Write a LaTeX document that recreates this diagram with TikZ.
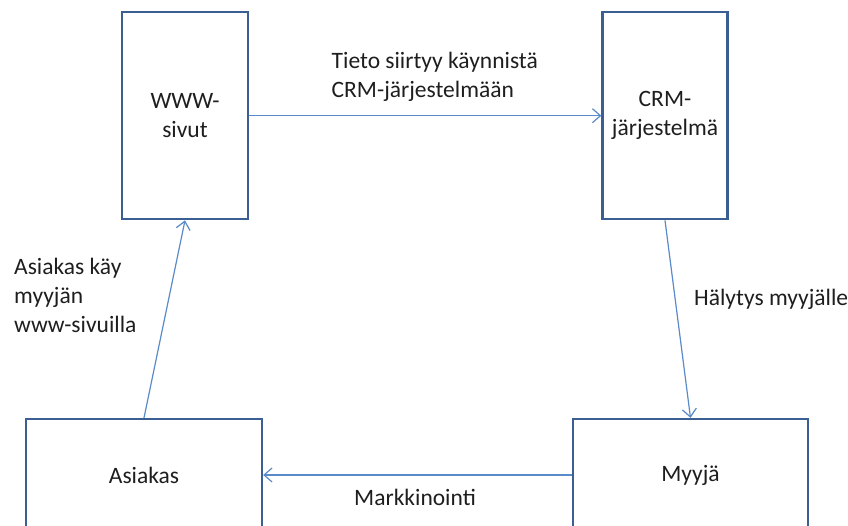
\documentclass[tikz,border=0pt]{standalone}
\usepackage{fontspec}
\setmainfont{Carlito}
\usetikzlibrary{arrows.meta}
\definecolor{boxline}{HTML}{3B5F92}
\definecolor{flowline}{HTML}{5B8AC8}
\definecolor{ink}{HTML}{1E1E1E}
\begin{document}
\begin{tikzpicture}[x=1pt,y=-1pt,
  every node/.style={font=\fontsize{23.5}{28.8}\selectfont, text=ink},
  block/.style={draw=boxline, line width=2.3pt, align=center, inner sep=0pt},
  flow/.style={draw=flowline, line width=1.2pt,
    -{Straight Barb[length=8pt,width=14pt,line width=1.2pt]}},
  caption/.style={anchor=base west, align=left, inner sep=0pt}]
\useasboundingbox (0,0) rectangle (848,525);
\begin{scope}
\clip (0,0) rectangle (848,525);
\node[block, minimum width=126pt, minimum height=207pt] (www) at (185,115.7) {WWW-\\sivut};
\node[block, minimum width=125pt, minimum height=207pt] (crm) at (665,115.7) {CRM-\\järjestelmä};
\node[block, minimum width=236pt, minimum height=112pt] (asiakas) at (144,475) {Asiakas};
\node[block, minimum width=234.5pt, minimum height=112pt] (myyja) at (690.5,475) {Myyjä};

\draw[flow] (www.east) -- (crm.west);
\draw[flow] (crm.south) -- (myyja.north);
\draw[flow] (myyja.west) -- (asiakas.east);
\draw[flow] (asiakas.north) -- (www.south);
\end{scope}

% multi-line captions are placed by the baseline of their last line
\node[caption] (lblTieto) at (331.5,97) {Tieto siirtyy käynnistä\\CRM-järjestelmään};
\node[caption] (lblAsiakas) at (14,332.5) {Asiakas käy\\myyjän\\www-sivuilla};
\node[caption] (lblHalytys) at (694,305) {Hälytys myyjälle};
\node[caption] (lblMarkk) at (354,505) {Markkinointi};
\end{tikzpicture}
\end{document}
